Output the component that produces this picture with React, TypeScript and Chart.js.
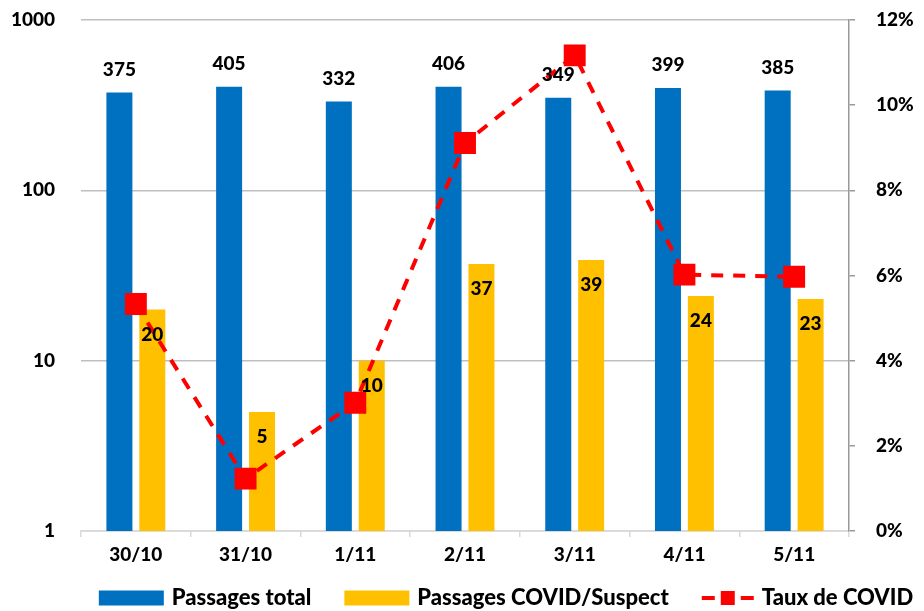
import React, { useEffect, useRef } from 'react';
import { Chart, registerables } from 'chart.js';

Chart.register(...registerables);

const categories = ['30/10', '31/10', '1/11', '2/11', '3/11', '4/11', '5/11'];
const passagesTotal = [375, 405, 332, 406, 349, 399, 385];
const passagesCovid = [20, 5, 10, 37, 39, 24, 23];
const tauxCovid = [5.33, 1.23, 3.01, 9.11, 11.17, 6.02, 5.97];
const leftTicks = [1, 10, 100, 1000];
const rightTicks = [0, 2, 4, 6, 8, 10, 12];
const seriesNames = ['Passages total', 'Passages COVID/Suspect', 'Taux de COVID'];

const FONT = 'Lato, "Open Sans", sans-serif';
const WEIGHT = '900';
const BLUE = '#0070C0';
const YELLOW = '#FFC000';
const RED = '#FF0000';

const labelPlugin = {
  id: 'barLabels',
  afterDatasetsDraw(chart: any) {
    const ctx = chart.ctx;
    ctx.save();
    ctx.font = `${WEIGHT} 19px ${FONT}`;
    ctx.fillStyle = '#000';
    ctx.textAlign = 'center';
    ctx.textBaseline = 'middle';
    chart.data.datasets.forEach((ds: any, i: number) => {
      if (ds.type === 'line') return;
      const meta = chart.getDatasetMeta(i);
      meta.data.forEach((el: any, j: number) => {
        const v = ds.data[j];
        const y = ds.labelPos === 'above' ? el.y - 23 : el.y + 25;
        ctx.fillText(String(v), el.x, y);
      });
    });
    ctx.restore();
  },
};

const legendPlugin = {
  id: 'customLegend',
  afterDraw(chart: any) {
    const ctx = chart.ctx;
    ctx.save();
    ctx.font = `${WEIGHT} 22px ${FONT}`;
    ctx.textBaseline = 'middle';
    ctx.textAlign = 'left';
    const cy = 598;
    const boxW = 65;
    const boxH = 15;
    const markerW = 52;
    const gapText = 8;
    const gapItem = 33;
    const widths = seriesNames.map((n) => ctx.measureText(n).width);
    const total =
      boxW + gapText + widths[0] + gapItem + boxW + gapText + widths[1] + gapItem + markerW + gapText + widths[2];
    let x = 506 - total / 2;
    ctx.fillStyle = BLUE;
    ctx.fillRect(x, cy - boxH / 2, boxW, boxH);
    x += boxW + gapText;
    ctx.fillStyle = '#000';
    ctx.fillText(seriesNames[0], x, cy);
    x += widths[0] + gapItem;
    ctx.fillStyle = YELLOW;
    ctx.fillRect(x, cy - boxH / 2, boxW, boxH);
    x += boxW + gapText;
    ctx.fillStyle = '#000';
    ctx.fillText(seriesNames[1], x, cy);
    x += widths[1] + gapItem;
    ctx.strokeStyle = RED;
    ctx.lineWidth = 4;
    ctx.beginPath();
    ctx.moveTo(x, cy);
    ctx.lineTo(x + 13, cy);
    ctx.moveTo(x + markerW - 13, cy);
    ctx.lineTo(x + markerW, cy);
    ctx.stroke();
    ctx.fillStyle = RED;
    ctx.fillRect(x + markerW / 2 - 7, cy - 7, 14, 14);
    x += markerW + gapText;
    ctx.fillStyle = '#000';
    ctx.fillText(seriesNames[2], x, cy);
    ctx.restore();
  },
};

export default function App() {
  const canvasRef = useRef<HTMLCanvasElement | null>(null);

  useEffect(() => {
    if (!canvasRef.current) return;
    const tickFont = { family: FONT, size: 19, weight: WEIGHT };
    const chart = new Chart(canvasRef.current, {
      type: 'bar',
      data: {
        labels: categories,
        datasets: [
          {
            type: 'line' as const,
            label: seriesNames[2],
            data: tauxCovid,
            yAxisID: 'y1',
            borderColor: RED,
            backgroundColor: RED,
            borderWidth: 4,
            borderDash: [12, 10],
            pointStyle: 'rect',
            pointRadius: 15.5,
            pointBorderWidth: 0,
            pointBackgroundColor: RED,
            tension: 0,
            order: 0,
          } as any,
          {
            type: 'bar' as const,
            label: seriesNames[0],
            data: passagesTotal,
            yAxisID: 'y',
            backgroundColor: BLUE,
            categoryPercentage: 0.6,
            barPercentage: 0.79,
            labelPos: 'above',
            order: 1,
          } as any,
          {
            type: 'bar' as const,
            label: seriesNames[1],
            data: passagesCovid,
            yAxisID: 'y',
            backgroundColor: YELLOW,
            categoryPercentage: 0.6,
            barPercentage: 0.79,
            labelPos: 'inside',
            order: 1,
          } as any,
        ],
      },
      options: {
        responsive: false,
        animation: false,
        layout: { padding: { top: 20, left: 0, right: 0, bottom: 0 } },
        plugins: {
          legend: { display: false },
          tooltip: { enabled: false },
        },
        scales: {
          x: {
            grid: {
              offset: true,
              drawOnChartArea: false,
              drawTicks: true,
              tickLength: 6,
              color: '#d9d9d9',
              lineWidth: 1.5,
            },
            border: { color: '#d9d9d9', width: 1.5 },
            ticks: { font: tickFont, color: '#000', padding: 6 },
            afterFit: (s: any) => {
              s.height = 80;
              s.paddingLeft = 0;
              s.paddingRight = 0;
            },
          },
          y: {
            type: 'logarithmic',
            position: 'left',
            min: 1,
            max: 1000,
            afterBuildTicks: (s: any) => {
              s.ticks = leftTicks.map((v) => ({ value: v }));
            },
            ticks: {
              font: tickFont,
              color: '#000',
              padding: 26,
              callback: (v: any) => String(v),
            },
            grid: { color: '#bfbfbf', lineWidth: 1.5, drawTicks: false },
            border: { display: false },
            afterFit: (s: any) => {
              s.width = 81;
              s.paddingTop = 0;
              s.paddingBottom = 0;
            },
          },
          y1: {
            type: 'linear',
            position: 'right',
            min: 0,
            max: 12,
            afterBuildTicks: (s: any) => {
              s.ticks = rightTicks.map((v) => ({ value: v }));
            },
            ticks: {
              font: tickFont,
              color: '#000',
              padding: 21,
              callback: (v: any) => v + '%',
            },
            grid: { drawOnChartArea: false, tickLength: 6, color: '#999', lineWidth: 1.5 },
            border: { color: '#999', width: 1.5 },
            afterFit: (s: any) => {
              s.width = 75;
              s.paddingTop = 0;
              s.paddingBottom = 0;
            },
          },
        },
      } as any,
      plugins: [labelPlugin, legendPlugin],
    });
    return () => chart.destroy();
  }, []);

  return (
    <div style={{ position: 'fixed', left: 0, top: 0, width: 924, height: 611, background: '#fff' }}>
      <canvas ref={canvasRef} width={924} height={611} style={{ display: 'block' }} />
    </div>
  );
}
